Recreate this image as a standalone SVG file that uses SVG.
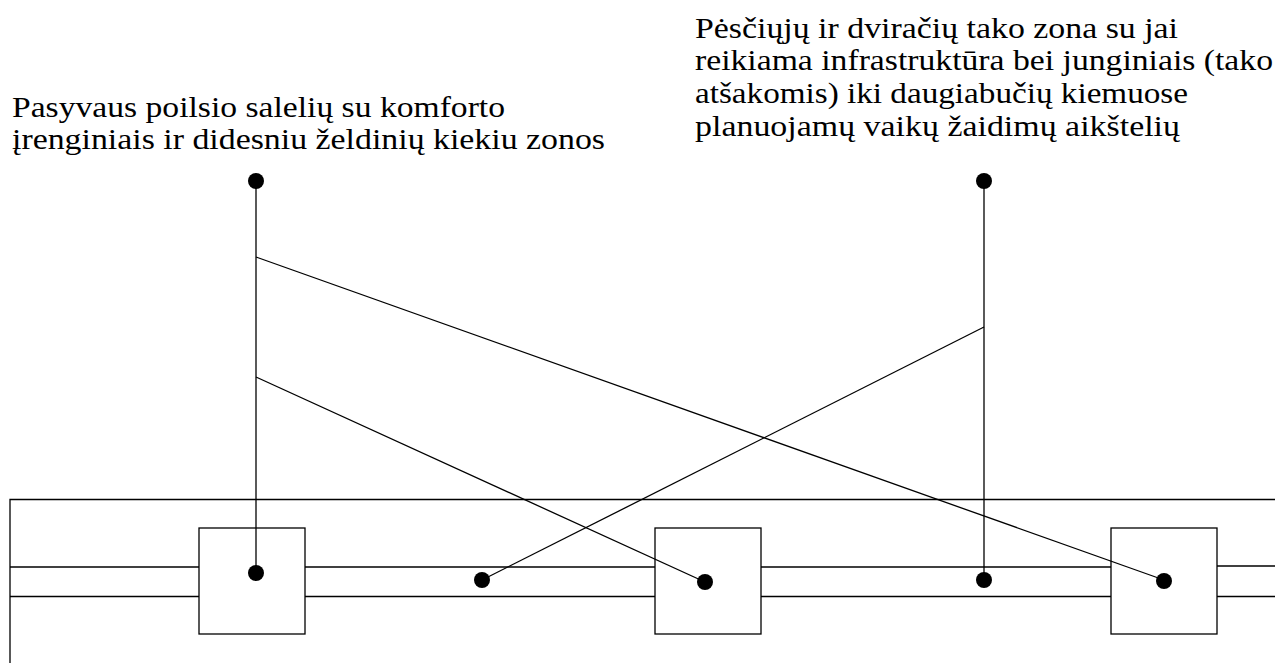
<svg xmlns="http://www.w3.org/2000/svg" width="1275" height="663" viewBox="0 0 1275 663">
<style>
.ln{stroke:#000;stroke-width:1.3;fill:none}
.box{stroke:#000;stroke-width:1.3;fill:#fff}
.dot{fill:#000}
</style>
<rect width="1275" height="663" fill="#fff"/>
<g id="frame">
<polyline class="ln" points="1275,499.5 10,499.5 10,663"/>
<line class="ln" x1="10" y1="567" x2="199" y2="567"/>
<line class="ln" x1="10" y1="596.5" x2="199" y2="596.5"/>
<line class="ln" x1="305" y1="567" x2="655" y2="567"/>
<line class="ln" x1="305" y1="596.5" x2="655" y2="596.5"/>
<line class="ln" x1="761" y1="567" x2="1111" y2="567"/>
<line class="ln" x1="761" y1="596.5" x2="1111" y2="596.5"/>
<line class="ln" x1="1217" y1="566" x2="1275" y2="566"/>
<line class="ln" x1="1217" y1="596.5" x2="1275" y2="596.5"/>
</g>
<g id="square1"><rect class="box" x="199" y="528" width="106" height="106"/></g>
<g id="square2"><rect class="box" x="655" y="528" width="106" height="106"/></g>
<g id="square3"><rect class="box" x="1111" y="528" width="106" height="106"/></g>
<g id="connectors">
<line class="ln" x1="256" y1="181" x2="256" y2="573"/>
<line class="ln" x1="984" y1="181" x2="984" y2="580"/>
<line class="ln" x1="256" y1="257" x2="1164" y2="580"/>
<line class="ln" x1="256" y1="377" x2="705" y2="582"/>
<line class="ln" x1="984" y1="327" x2="482" y2="580"/>
</g>
<g id="dots">
<circle class="dot" cx="256" cy="181" r="8"/>
<circle class="dot" cx="984" cy="181" r="8"/>
<circle class="dot" cx="256" cy="573" r="8"/>
<circle class="dot" cx="482" cy="580" r="8"/>
<circle class="dot" cx="705" cy="582" r="8"/>
<circle class="dot" cx="984" cy="580" r="8"/>
<circle class="dot" cx="1164" cy="581" r="8"/>
</g>
<g id="label1" font-family="Liberation Serif, Times New Roman, serif" font-size="30" fill="#000">
<text x="12" y="117" textLength="493" lengthAdjust="spacingAndGlyphs">Pasyvaus poilsio salelių su komforto</text>
<text x="12" y="149" textLength="593" lengthAdjust="spacingAndGlyphs">įrenginiais ir didesniu želdinių kiekiu zonos</text>
</g>
<g id="label2" font-family="Liberation Serif, Times New Roman, serif" font-size="30" fill="#000">
<text x="695" y="38" textLength="483" lengthAdjust="spacingAndGlyphs">Pėsčiųjų ir dviračių tako zona su jai</text>
<text x="695" y="70" textLength="578" lengthAdjust="spacingAndGlyphs">reikiama infrastruktūra bei junginiais (tako</text>
<text x="695" y="103" textLength="493" lengthAdjust="spacingAndGlyphs">atšakomis) iki daugiabučių kiemuose</text>
<text x="695" y="136" textLength="485" lengthAdjust="spacingAndGlyphs">planuojamų vaikų žaidimų aikštelių</text>
</g>
</svg>
